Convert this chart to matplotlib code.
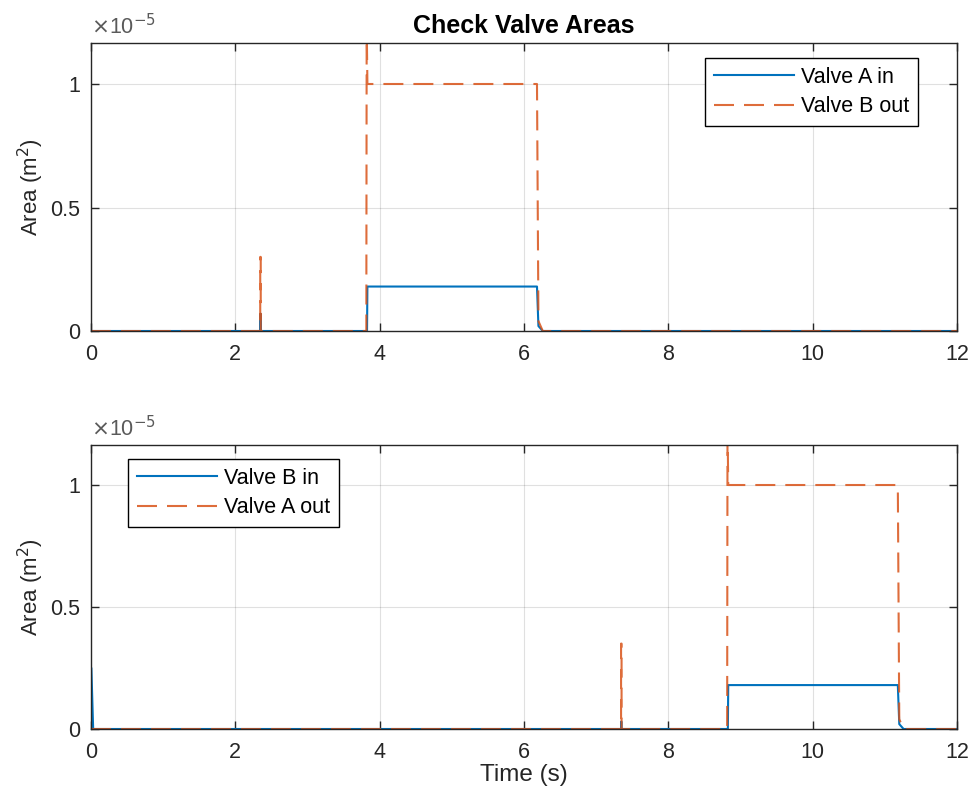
import matplotlib
matplotlib.use("Agg")
import matplotlib.pyplot as plt

plt.rcParams['font.family'] = ['Liberation Sans', 'DejaVu Sans']

# Top panel data (area in units of 1e-5 m^2)
t_a_in = [0, 2.345, 2.345, 2.352, 2.352, 3.825, 3.83, 6.18, 6.20, 6.26, 12]
a_a_in = [0, 0, 0.07, 0.07, 0, 0, 0.18, 0.18, 0.02, 0, 0]
t_b_out = [0, 2.345, 2.345, 2.352, 2.352, 3.815, 3.82, 3.83, 6.18, 6.20, 6.26, 12]
a_b_out = [0, 0, 0.30, 0.30, 0, 0, 1.25, 1.0, 1.0, 0.04, 0, 0]

# Bottom panel data
t_b_in = [0, 0.005, 0.03, 7.345, 7.345, 7.352, 7.352, 8.825, 8.83, 11.18, 11.20, 11.26, 12]
a_b_in = [0.25, 0.25, 0, 0, 0.03, 0.03, 0, 0, 0.18, 0.18, 0.02, 0, 0]
t_a_out = [0, 7.345, 7.345, 7.352, 7.352, 8.815, 8.82, 8.83, 11.18, 11.20, 11.26, 12]
a_a_out = [0, 0, 0.35, 0.35, 0, 0, 1.25, 1.0, 1.0, 0.04, 0, 0]

xticks = [0, 2, 4, 6, 8, 10, 12]
yticks = [0, 0.5, 1]
ytick_labels = ['0', '0.5', '1']

BLUE = '#0072BD'
ORANGE = '#D95319'
AXC = '#262626'
FS = 15.5
FL = 17.5

fig = plt.figure(figsize=(9.76, 8.11), dpi=100)
ax1 = fig.add_axes([91/976, 1-331/811, (957-91)/976, (331-43)/811])
ax2 = fig.add_axes([91/976, 1-729/811, (957-91)/976, (729-445)/811])

def style(ax, ylim_top):
    ax.set_xlim(0, 12)
    ax.set_ylim(0, ylim_top)
    ax.set_xticks(xticks)
    ax.set_yticks(yticks)
    ax.set_yticklabels(ytick_labels)
    ax.tick_params(direction='in', length=6, width=1, colors=AXC, labelsize=FS,
                   top=True, right=True)
    ax.tick_params(axis='x', pad=9)
    ax.tick_params(axis='y', pad=8)
    for s in ax.spines.values():
        s.set_color(AXC)
        s.set_linewidth(1.0)
    ax.grid(True, color='#000000', alpha=0.12, linewidth=0.8)
    ax.set_axisbelow(True)
    ax.set_ylabel('Area (m$^2$)', fontsize=16, color=AXC, labelpad=3)
    ax.text(0, 1.012, r'$\times$10$^{-5}$', transform=ax.transAxes, fontsize=FS,
            color='#5a5a5a', ha='left', va='bottom')

leg_kw = dict(fontsize=FS, handlelength=3.7, frameon=True, fancybox=False,
              edgecolor='#000000', framealpha=1, borderpad=0.4, labelspacing=0.4,
              handletextpad=0.35, borderaxespad=0)

ax1.plot(t_a_in, a_a_in, color=BLUE, lw=1.5, label='Valve A in')
ax1.plot(t_b_out, a_b_out, color=ORANGE, lw=1.5, dashes=(9.6, 4.8), label='Valve B out', alpha=0.85)
style(ax1, 1.166)
ax1.set_title('Check Valve Areas', fontsize=18, fontweight='bold', color='#000000', pad=7)
ax1.legend(loc='upper right', bbox_to_anchor=(0.955, 0.948), **leg_kw)

ax2.plot(t_b_in, a_b_in, color=BLUE, lw=1.5, label='Valve B in')
ax2.plot(t_a_out, a_a_out, color=ORANGE, lw=1.5, dashes=(9.6, 4.8), label='Valve A out', alpha=0.85)
style(ax2, 1.164)
ax2.set_xlabel('Time (s)', fontsize=FL, color=AXC, labelpad=1)
ax2.legend(loc='upper left', bbox_to_anchor=(0.043, 0.951), **leg_kw)

fig.savefig('out.png', dpi=100, facecolor='white')
